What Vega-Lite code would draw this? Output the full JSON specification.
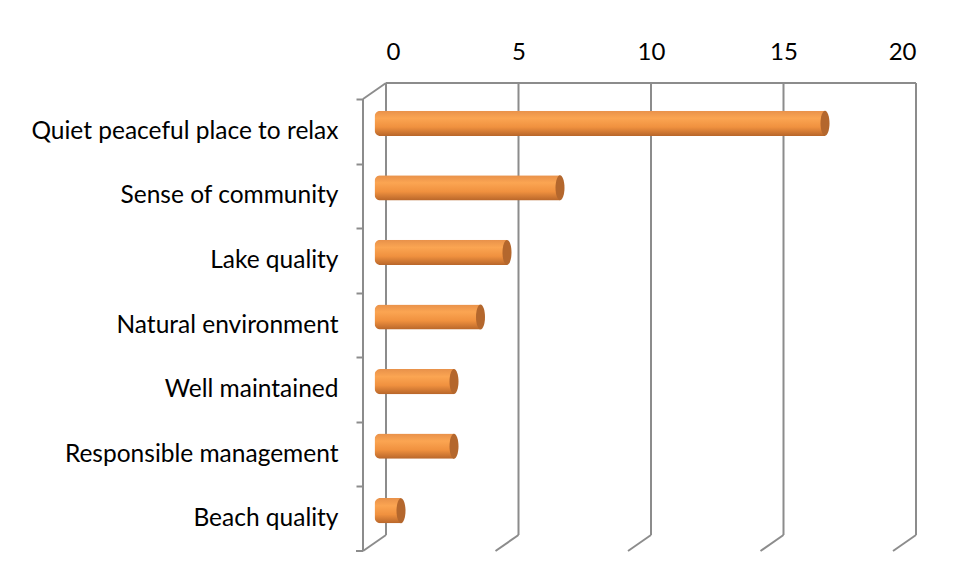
{
  "$schema": "https://vega.github.io/schema/vega-lite/v6.json",
  "autosize": "none",
  "width": 530,
  "height": 452,
  "padding": {"left": 374.5, "top": 91, "right": 51.5, "bottom": 37},
  "background": "white",
  "config": {
    "view": {"stroke": null},
    "font": "Lato",
    "axisX": {"orient": "top", "domain": false, "ticks": false, "tickSize": 0, "grid": false, "labelOffset": 11.5, "labelPadding": 27, "labelFontSize": 24, "labelColor": "#000000", "labelFont": "Lato", "title": null, "values": [0, 5, 10, 15, 20]}
  },
  "layer": [
    {
      "data": {"values": [{"v": 0}, {"v": 5}, {"v": 10}, {"v": 15}, {"v": 20}]},
      "mark": {"type": "rule", "color": "#8c8c8c", "strokeWidth": 2, "xOffset": 11.5, "yOffset": -8, "y2Offset": -8},
      "encoding": {
        "x": {"field": "v", "type": "quantitative", "scale": {"domain": [0, 20], "nice": false}, "axis": {"orient": "top", "values": [0, 5, 10, 15, 20]}},
        "y": {"value": 0},
        "y2": {"value": {"expr": "height"}}
      }
    },
    {
      "data": {"values": [{"v": 0}, {"v": 5}, {"v": 10}, {"v": 15}, {"v": 20}]},
      "mark": {"type": "rule", "color": "#8c8c8c", "strokeWidth": 2, "xOffset": 11.5, "x2Offset": -11.5, "yOffset": -8, "y2Offset": 8},
      "encoding": {
        "x": {"field": "v", "type": "quantitative"},
        "x2": {"field": "v"},
        "y": {"value": {"expr": "height"}},
        "y2": {"value": {"expr": "height"}}
      }
    },
    {
      "data": {"values": [{"a": 0, "b": 20}]},
      "mark": {"type": "rule", "color": "#8c8c8c", "strokeWidth": 2, "xOffset": 11.5, "x2Offset": 11.5, "yOffset": -8},
      "encoding": {
        "x": {"field": "a", "type": "quantitative"},
        "x2": {"field": "b"},
        "y": {"value": 0}
      }
    },
    {
      "data": {"values": [{"a": 0}]},
      "mark": {"type": "rule", "color": "#8c8c8c", "strokeWidth": 2, "xOffset": -11.5, "yOffset": 8, "y2Offset": 8},
      "encoding": {
        "x": {"field": "a", "type": "quantitative"},
        "y": {"value": 0},
        "y2": {"value": {"expr": "height"}}
      }
    },
    {
      "data": {"values": [{"a": 0}]},
      "mark": {"type": "rule", "color": "#8c8c8c", "strokeWidth": 2, "xOffset": -11.5, "x2Offset": 11.5, "yOffset": 8, "y2Offset": -8},
      "encoding": {
        "x": {"field": "a", "type": "quantitative"},
        "x2": {"field": "a"},
        "y": {"value": 0},
        "y2": {"value": 0}
      }
    },
    {
      "data": {"values": [{"a": 0}]},
      "mark": {"type": "rule", "color": "#8c8c8c", "strokeWidth": 2, "xOffset": -11.5, "x2Offset": -18.5, "yOffset": 8, "y2Offset": 8},
      "encoding": {
        "x": {"field": "a", "type": "quantitative"},
        "x2": {"field": "a"},
        "y": {"value": {"expr": "height"}},
        "y2": {"value": {"expr": "height"}}
      }
    },
    {
      "data": {"values": [
        {"reason": "Quiet peaceful place to relax", "count": 17},
        {"reason": "Sense of community", "count": 7},
        {"reason": "Lake quality", "count": 5},
        {"reason": "Natural environment", "count": 4},
        {"reason": "Well maintained", "count": 3},
        {"reason": "Responsible management", "count": 3},
        {"reason": "Beach quality", "count": 1}
      ]},
      "layer": [
        {
          "mark": {
            "type": "bar",
            "height": {"band": 0.39},
            "cornerRadiusTopLeft": 6,
            "cornerRadiusBottomLeft": 6,
            "fill": {
              "gradient": "linear", "x1": 0, "y1": 0, "x2": 0, "y2": 1,
              "stops": [
                {"offset": 0, "color": "#e8914a"},
                {"offset": 0.3, "color": "#fba552"},
                {"offset": 0.65, "color": "#f0913f"},
                {"offset": 1, "color": "#b8662a"}
              ]
            }
          },
          "encoding": {
            "x": {"field": "count", "type": "quantitative"},
            "y": {
              "field": "reason", "type": "nominal", "sort": null,
              "scale": {"paddingInner": 0, "paddingOuter": 0},
              "axis": {"orient": "left", "title": null, "domain": false, "offset": 11.5, "bandPosition": 0, "tickOffset": 8, "labelOffset": 0, "tickSize": 7, "tickWidth": 2, "tickColor": "#8c8c8c", "labelPadding": 18, "labelFontSize": 24.5, "labelFont": "Lato", "labelColor": "#000000", "labelLimit": 400}
            }
          }
        },
        {
          "mark": {"type": "point", "filled": true, "opacity": 1, "color": "#b4672d", "size": 625, "shape": "M0,-1A0.36,1 0 1,1 0,1A0.36,1 0 1,1 0,-1Z"},
          "encoding": {
            "x": {"field": "count", "type": "quantitative"},
            "y": {"field": "reason", "type": "nominal", "sort": null}
          }
        }
      ]
    }
  ]
}
